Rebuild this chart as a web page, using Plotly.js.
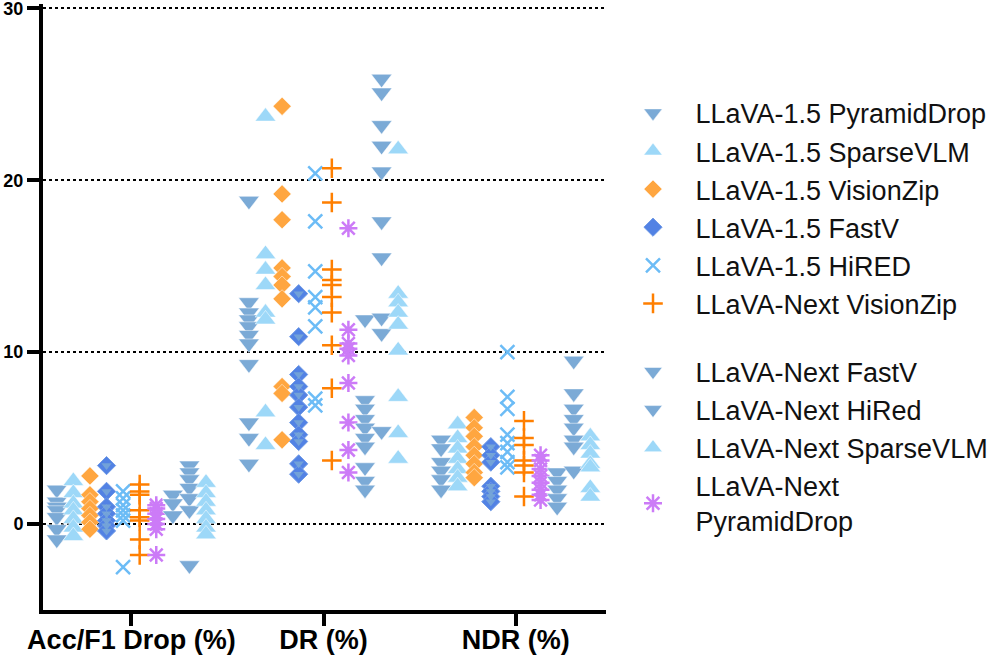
<!DOCTYPE html>
<html>
<head>
<meta charset="utf-8">
<script src="https://cdn.plot.ly/plotly-3.0.1.min.js"></script>
<style>
  html, body { margin: 0; padding: 0; background: #fff; }
  #chart { width: 998px; height: 665px; }
</style>
</head>
<body>
<div id="chart"></div>
<script>
// categories on the x axis
var categories = ['Acc/F1 Drop (%)', 'DR (%)', 'NDR (%)'];

// values per series, one list per category: [acc, dr, ndr]
var llava15PyramidDrop = [
  [2.0, 1.3, 1.0, 0.8, 0.4, -0.3, -0.9],
  [18.8, 12.9, 12.3, 11.9, 11.5, 11.0, 10.5, 9.3, 5.9, 5.0, 3.5],
  [4.9, 4.4, 3.6, 3.1, 2.6, 2.0]
];
var llava15SparseVLM = [
  [2.5, 1.8, 1.2, 0.8, 0.3, -0.2, -0.7],
  [23.7, 15.7, 14.8, 13.9, 12.3, 11.9, 6.5, 4.6],
  [5.8, 5.0, 4.4, 3.8, 3.2, 2.7, 2.2]
];
var llava15VisionZip = [
  [2.8, 1.7, 1.3, 0.9, 0.5, 0.1, -0.3],
  [24.3, 19.2, 17.7, 14.9, 14.4, 13.9, 13.1, 8.0, 7.6, 4.9],
  [6.2, 5.6, 5.1, 4.5, 4.0, 3.5, 3.0, 2.7]
];
var llava15FastV = [
  [3.4, 1.9, 1.0, 0.6, 0.2, -0.1, -0.4],
  [13.4, 10.9, 8.7, 8.0, 7.5, 6.8, 5.9, 5.2, 4.8, 3.5, 2.9],
  [4.5, 4.0, 3.6, 2.2, 1.9, 1.6, 1.3]
];
var llava15HiRED = [
  [1.9, 1.5, 1.1, 0.8, 0.5, 0.2, -2.5],
  [20.4, 17.6, 14.7, 13.2, 12.6, 11.5, 7.3, 6.9],
  [10.0, 7.4, 6.7, 5.2, 4.7, 4.2, 3.6, 3.3]
];
var nextVisionZip = [
  [2.3, 1.9, 1.7, 0.8, 0.4, 0.2, -0.9, -1.8],
  [20.7, 18.7, 14.8, 14.2, 13.9, 13.2, 12.3, 10.4, 7.9, 3.7],
  [6.0, 5.0, 4.6, 3.7, 3.4, 3.0, 1.6]
];
var nextPyramidDrop = [
  [1.1, 0.9, 0.6, 0.3, 0.0, -0.3, -1.8],
  [17.2, 11.3, 10.5, 10.2, 9.8, 8.2, 5.9, 4.3, 3.0],
  [4.0, 3.7, 3.2, 2.8, 2.4, 2.0, 1.7, 1.4]
];
var nextFastV = [
  [1.7, 1.2, 0.5],
  [11.9, 7.2, 6.7, 6.1, 5.6, 5.0, 4.5, 3.3, 2.5, 2.0],
  [3.0, 2.5, 2.0, 1.5, 1.0]
];
var nextHiRed = [
  [3.4, 3.0, 2.6, 2.1, 1.5, 0.8, -2.4],
  [25.9, 25.1, 23.2, 22.0, 20.5, 17.6, 15.5, 12.0, 11.1, 5.4],
  [9.5, 7.6, 6.7, 6.1, 5.6, 4.9, 4.5, 3.1]
];
var nextSparseVLM = [
  [2.4, 1.8, 1.3, 0.8, 0.3, -0.2, -0.6],
  [21.8, 13.4, 12.9, 12.3, 11.6, 10.1, 7.4, 5.3, 3.8],
  [5.1, 4.6, 4.1, 3.5, 3.3, 2.1, 1.6]
];

var steel = '#7BAAD6';
var sky = '#9DD8F8';
var rim = 'rgba(255,255,255,0.5)';

// series in left-to-right order inside each category
var series = [
  {name: 'LLaVA-1.5 PyramidDrop', data: llava15PyramidDrop, group: 'g1', rank: 1,
   marker: {symbol: 'triangle-down', size: 18, color: steel, line: {width: 1, color: rim}}},
  {name: 'LLaVA-1.5 SparseVLM', data: llava15SparseVLM, group: 'g1', rank: 2,
   marker: {symbol: 'triangle-up', size: 18, color: sky, line: {width: 1, color: rim}}},
  {name: 'LLaVA-1.5 VisionZip', data: llava15VisionZip, group: 'g1', rank: 3,
   marker: {symbol: 'diamond', size: 14, color: '#FFA640', line: {width: 1, color: rim}}},
  {name: 'LLaVA-1.5 FastV', data: llava15FastV, group: 'g1', rank: 4,
   marker: {symbol: 'diamond', size: 14, color: '#5282E4', line: {width: 1, color: '#6f9ae6'}}},
  {name: 'LLaVA-1.5 HiRED', data: llava15HiRED, group: 'g1', rank: 5,
   marker: {symbol: 'x-thin-open', size: 14, color: '#6CBCF6', line: {width: 2.5, color: '#6CBCF6'}}},
  {name: 'LLaVA-Next VisionZip', data: nextVisionZip, group: 'g1', rank: 6,
   marker: {symbol: 'cross-thin-open', size: 14, color: '#FF7F00', line: {width: 2.5, color: '#FF7F00'}}},
  {name: 'LLaVA-Next<br>PyramidDrop', data: nextPyramidDrop, group: 'g2', rank: 10,
   marker: {symbol: 'asterisk-open', size: 15, color: '#CC7BF7', line: {width: 2.5, color: '#CC7BF7'}}},
  {name: 'LLaVA-Next FastV', data: nextFastV, group: 'g2', rank: 7,
   marker: {symbol: 'triangle-down', size: 18, color: steel, line: {width: 1, color: rim}}},
  {name: 'LLaVA-Next HiRed', data: nextHiRed, group: 'g2', rank: 8,
   marker: {symbol: 'triangle-down', size: 18, color: steel, line: {width: 1, color: rim}}},
  {name: 'LLaVA-Next SparseVLM', data: nextSparseVLM, group: 'g2', rank: 9,
   marker: {symbol: 'triangle-up', size: 18, color: sky, line: {width: 1, color: rim}}}
];

var step = 0.0863;
var traces = [];

function build_xy(s, k) {
  var x = [], y = [];
  for (var c = 0; c < categories.length; c++) {
    for (var j = 0; j < s.data[c].length; j++) {
      x.push(c + (k - 4.5) * step);
      y.push(s.data[c][j]);
    }
  }
  return {x: x, y: y};
}

for (var k = 0; k < series.length; k++) {
  var s = series[k];
  var xy = build_xy(s, k);
  traces.push({
    x: xy.x,
    y: xy.y,
    type: 'scatter',
    mode: 'markers',
    name: s.name,
    legendgroup: s.group,
    legendrank: s.rank,
    marker: s.marker,
    cliponaxis: false
  });
  // FastV diamonds carry a lighter triangle inside
  if (s.name == 'LLaVA-1.5 FastV') {
    traces.push({
      x: xy.x,
      y: xy.y,
      type: 'scatter',
      mode: 'markers',
      showlegend: false,
      hoverinfo: 'skip',
      legendgroup: s.group,
      marker: {symbol: 'triangle-down', size: 9, color: steel, opacity: 0.8}
    });
  }
}

var font = 'Arial, "Liberation Sans", Helvetica, sans-serif';

var layout = {
  width: 998,
  height: 665,
  margin: {l: 43, r: 388, t: 4, b: 55},
  paper_bgcolor: '#fff',
  plot_bgcolor: '#fff',
  font: {family: font, color: '#000'},
  showlegend: true,
  legend: {
    x: 1.008,
    xanchor: 'left',
    y: 0.86,
    yanchor: 'top',
    font: {family: font, size: 27, color: '#111'},
    traceorder: 'grouped',
    tracegroupgap: 30,
    itemwidth: 75
  },
  xaxis: {
    range: [-0.46, 2.47],
    tickvals: [0, 1, 2],
    ticktext: categories,
    tickfont: {family: font, size: 27, weight: 'bold', color: '#000'},
    ticks: 'outside',
    ticklen: 12,
    tickwidth: 4,
    tickcolor: '#000',
    ticklabelstandoff: -9,
    showline: true,
    linewidth: 4,
    linecolor: '#000',
    showgrid: false,
    zeroline: false
  },
  yaxis: {
    range: [-5, 30.25],
    tickvals: [0, 10, 20, 30],
    tickfont: {family: font, size: 18, weight: 'bold', color: '#000'},
    ticklabeloverflow: 'allow',
    ticks: 'outside',
    ticklen: 12,
    tickwidth: 4,
    tickcolor: '#000',
    showline: true,
    linewidth: 4,
    linecolor: '#000',
    showgrid: true,
    gridcolor: '#000',
    gridwidth: 2,
    griddash: 'dot',
    zeroline: false
  }
};

Plotly.newPlot('chart', traces, layout, {displayModeBar: false, staticPlot: true});
</script>
</body>
</html>
